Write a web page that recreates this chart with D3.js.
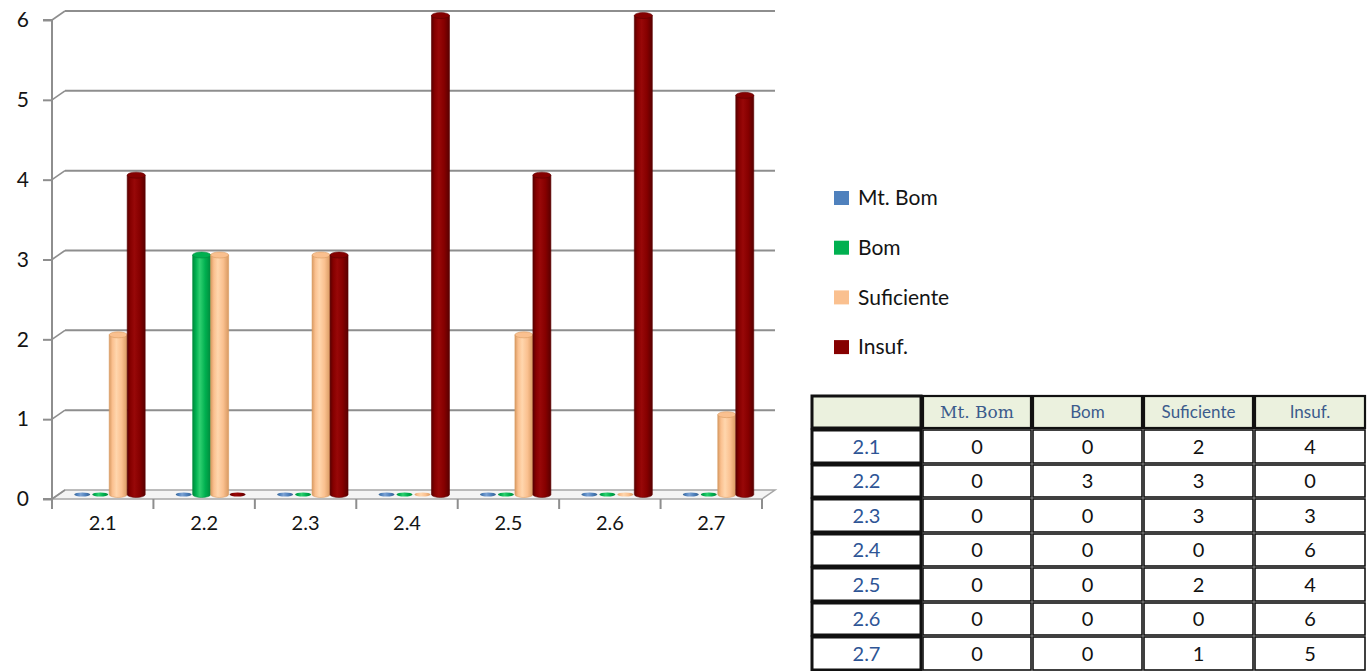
<!DOCTYPE html>
<html>
<head>
<meta charset="utf-8">
<script src="https://cdn.jsdelivr.net/npm/d3@7"></script>
<style>
  html, body { margin: 0; padding: 0; background: #fff; }
  svg { display: block; }
</style>
</head>
<body>
<svg id="chart" width="1372" height="671"></svg>
<script>
// Item labels (x axis) and the four rating series
const categories = ["2.1", "2.2", "2.3", "2.4", "2.5", "2.6", "2.7"];
const seriesNames = ["Mt. Bom", "Bom", "Suficiente", "Insuf."];
const mtBom      = [0, 0, 0, 0, 0, 0, 0];
const bom        = [0, 3, 0, 0, 0, 0, 0];
const suficiente = [2, 3, 3, 0, 2, 0, 1];
const insuf      = [4, 0, 3, 6, 4, 6, 5];
const yTicks     = [0, 1, 2, 3, 4, 5, 6];

const seriesValues = [mtBom, bom, suficiente, insuf];
const seriesColors = ["#4f81bd", "#00b050", "#fac08f", "#860000"];
const seriesDark   = ["#35618f", "#008a3c", "#d99a62", "#5a0000"];
const seriesLight  = ["#7da3d4", "#2fd070", "#ffd6ad", "#980808"];

const svg = d3.select("#chart");
const defs = svg.append("defs");

// Cylinder shading: dark edges, lighter band left of centre
seriesColors.forEach((c, i) => {
  const g = defs.append("linearGradient").attr("id", "cyl" + i)
    .attr("x1", "0%").attr("x2", "100%").attr("y1", "0%").attr("y2", "0%");
  g.append("stop").attr("offset", "0%").attr("stop-color", seriesDark[i]);
  g.append("stop").attr("offset", "18%").attr("stop-color", c);
  g.append("stop").attr("offset", "40%").attr("stop-color", seriesLight[i]);
  g.append("stop").attr("offset", "70%").attr("stop-color", c);
  g.append("stop").attr("offset", "100%").attr("stop-color", seriesDark[i]);
});

// 3D frame geometry: front plane and depth offset to the back wall
const frontLeft = 52, frontRight = 762;
const depthX = 13, depthY = -9;
const barShiftX = depthX / 2, barShiftY = depthY / 2;

const x0 = d3.scaleBand().domain(categories).range([frontLeft, frontRight]);
const x1 = d3.scaleBand().domain(seriesNames).range([0, x0.bandwidth()])
  .paddingInner(0).paddingOuter(0.82);
const y = d3.scaleLinear().domain([0, 6]).range([499, 20]);

const gridColor = "#8e8e8e";
const uiFont = "Lato, 'Open Sans', sans-serif";

// Floor slab
const fl = frontLeft, fr = frontRight, fy = y(0);
svg.append("path")
  .attr("d", `M${fl},${fy} L${fr},${fy} L${fr + depthX},${fy + depthY} L${fl + depthX},${fy + depthY} Z`)
  .attr("fill", "#f4f4f4").attr("stroke", "#a6a6a6").attr("stroke-width", 1.5);

// Back-wall gridlines and their left-wall diagonals
const grid = svg.append("g");
yTicks.forEach(t => {
  const yf = y(t), yb = y(t) + depthY;
  if (t > 0) {
    grid.append("line")
      .attr("x1", fl + depthX).attr("x2", fr + depthX)
      .attr("y1", yb).attr("y2", yb)
      .attr("stroke", gridColor).attr("stroke-width", 2);
  }
  grid.append("line")
    .attr("x1", fl).attr("y1", yf).attr("x2", fl + depthX).attr("y2", yb)
    .attr("stroke", gridColor).attr("stroke-width", 1.6);
});

// Front value axis
const yAxis = d3.axisLeft(y).tickValues(yTicks).tickSize(9).tickPadding(14).tickFormat(d3.format("d"));
const yAxisG = svg.append("g").attr("transform", `translate(${fl},0)`).call(yAxis);
yAxisG.select(".domain").attr("stroke", gridColor).attr("stroke-width", 2)
  .attr("d", `M-9,${y(6)}H0V${y(0)}H-9`);
yAxisG.selectAll(".tick line").attr("stroke", gridColor).attr("stroke-width", 2);
yAxisG.selectAll(".tick text")
  .attr("font-family", uiFont)
  .attr("font-size", 21).attr("fill", "#141414");

// Category axis along the floor's front edge
const xAxis = d3.axisBottom(x0).tickSize(0).tickPadding(17);
const xAxisG = svg.append("g").attr("transform", `translate(0,${fy})`).call(xAxis);
xAxisG.select(".domain").remove();
xAxisG.selectAll(".tick text")
  .attr("font-family", uiFont)
  .attr("font-size", 20).attr("fill", "#141414");
const bounds = categories.map(c => x0(c)).concat([frontRight]);
xAxisG.selectAll("line.cat-tick").data(bounds).join("line")
  .attr("class", "cat-tick")
  .attr("x1", d => d).attr("x2", d => d)
  .attr("y1", 0).attr("y2", 10)
  .attr("stroke", gridColor).attr("stroke-width", 2);

// Cylindrical bars, placed half-way into the depth
const bars = svg.append("g");
const capRy = 3;
categories.forEach((cat, ci) => {
  seriesNames.forEach((s, si) => {
    const v = seriesValues[si][ci];
    const bx = x0(cat) + x1(s) + barShiftX;
    const bw = x1.bandwidth();
    const base = y(0) + barShiftY;
    const top = y(v) + barShiftY;
    const g = bars.append("g");
    if (v > 0) {
      g.append("path")
        .attr("d", `M${bx},${top} L${bx},${base} A${bw / 2},${capRy} 0 0 0 ${bx + bw},${base} L${bx + bw},${top} Z`)
        .attr("fill", `url(#cyl${si})`)
        .attr("stroke", seriesDark[si]).attr("stroke-width", 0.6);
      g.append("ellipse")
        .attr("cx", bx + bw / 2).attr("cy", top)
        .attr("rx", bw / 2).attr("ry", capRy)
        .attr("fill", seriesColors[si])
        .attr("stroke", seriesDark[si]).attr("stroke-width", 0.6);
    } else {
      g.append("ellipse")
        .attr("cx", bx + bw / 2).attr("cy", base)
        .attr("rx", bw / 2 - 1).attr("ry", 2)
        .attr("fill", `url(#cyl${si})`);
    }
  });
});

// Legend
const legend = svg.append("g").attr("transform", "translate(834,198)");
seriesNames.forEach((s, i) => {
  const row = legend.append("g").attr("transform", `translate(0,${i * 49.7})`);
  row.append("rect").attr("x", 0).attr("y", -7).attr("width", 15).attr("height", 14)
    .attr("fill", seriesColors[i]);
  row.append("text").attr("x", 24).attr("y", 0).attr("dy", "0.35em")
    .attr("font-family", uiFont)
    .attr("font-size", 21).attr("fill", "#141414").text(s);
});

// Data table underneath the legend
const colEdges = [811, 922, 1032, 1143, 1254, 1366];
const rowEdges = [395, 429, 464, 498, 533, 567, 602, 636, 671];
const table = svg.append("g");

function cell(ci, ri, fill, sw) {
  const gap = 1;
  table.append("rect")
    .attr("x", colEdges[ci] + gap).attr("y", rowEdges[ri] + gap)
    .attr("width", colEdges[ci + 1] - colEdges[ci] - 2 * gap)
    .attr("height", rowEdges[ri + 1] - rowEdges[ri] - 2 * gap)
    .attr("fill", fill).attr("stroke", "#111").attr("stroke-width", sw);
}
function cellText(ci, ri, txt, color, size, family) {
  table.append("text")
    .attr("x", (colEdges[ci] + colEdges[ci + 1]) / 2)
    .attr("y", (rowEdges[ri] + rowEdges[ri + 1]) / 2)
    .attr("dy", "0.36em").attr("text-anchor", "middle")
    .attr("font-family", family || uiFont)
    .attr("font-size", size).attr("fill", color).text(txt);
}

// Header row
for (let c = 0; c < 5; c++) cell(c, 0, "#ebf1de", c === 0 ? 3 : 2.2);
seriesNames.forEach((s, i) =>
  cellText(i + 1, 0, s, "#3b5b8c", 17, i === 0 ? "'DejaVu Serif', 'Liberation Serif', serif" : uiFont));

// Body rows
categories.forEach((cat, r) => {
  cell(0, r + 1, "#fff", 3);
  cellText(0, r + 1, cat, "#2e5596", 20);
  seriesValues.forEach((vals, si) => {
    cell(si + 1, r + 1, "#fff", 1.6);
    cellText(si + 1, r + 1, vals[r], "#111", 20);
  });
});
</script>
</body>
</html>
